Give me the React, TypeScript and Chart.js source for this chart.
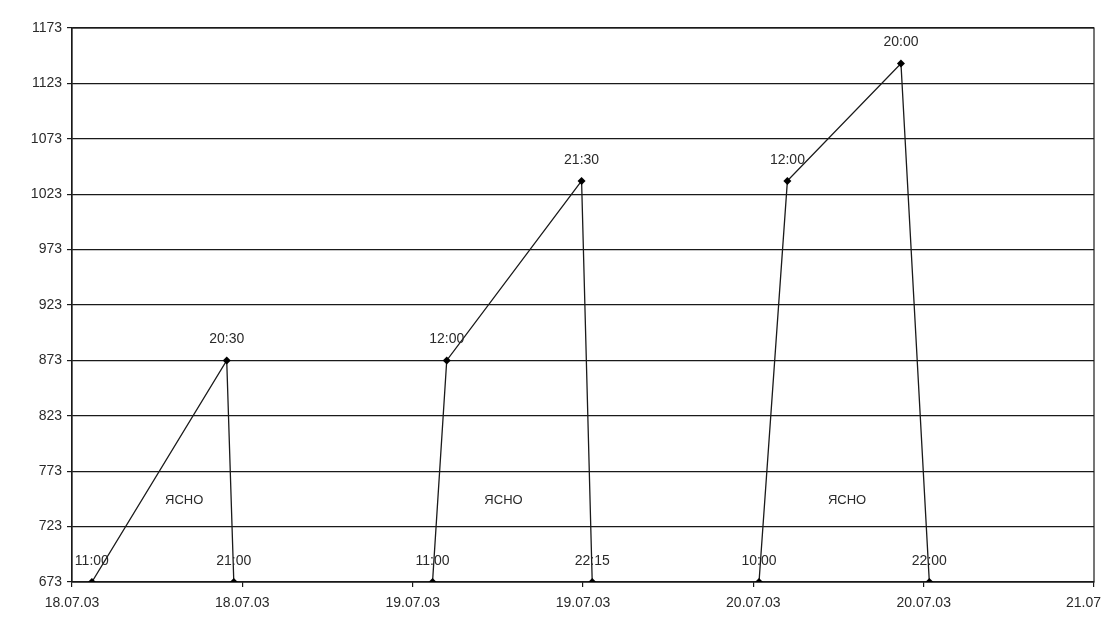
import React, { useEffect, useRef } from 'react'
import { Chart, registerables, Plugin } from 'chart.js'

Chart.register(...registerables)

// hours counted from 18.07.03 00:00
const pointHours = [11, 20.5, 21, 35, 36, 45.5, 46.25, 58, 60, 68, 70]
const pointTimes = ['11:00', '20:30', '21:00', '11:00', '12:00', '21:30', '22:15', '10:00', '12:00', '20:00', '22:00']
const pointLevels = [673, 873, 673, 673, 873, 1035, 673, 673, 1035, 1141, 673]

const yTicks = [673, 723, 773, 823, 873, 923, 973, 1023, 1073, 1123, 1173]
const xTickHours = [9.6, 21.6, 33.6, 45.6, 57.6, 69.6, 81.6]
// last label is cut by the page edge in the original, keep it inside
const xTickLabels = ['18.07.03', '18.07.03', '19.07.03', '19.07.03', '20.07.03', '20.07.03', '21.07\u2003\u2002']

const noteTexts = ['ЯСНО', 'ЯСНО', 'ЯСНО']
const noteHours = [17.5, 40, 64.2]
const noteLevels = [747, 747, 747]

const FONT = "'Liberation Sans', Arial, sans-serif"
const INK = '#1a1a1a'

// time labels over each point + the weather notes
const labelsPlugin: Plugin<'line'> = {
  id: 'pointLabels',
  afterDatasetsDraw(chart) {
    const ctx = chart.ctx
    const meta = chart.getDatasetMeta(0)
    ctx.save()
    ctx.fillStyle = '#2a2a2a'
    ctx.font = `14px ${FONT}`
    ctx.textAlign = 'center'
    ctx.textBaseline = 'middle'
    meta.data.forEach((el, i) => {
      ctx.fillText(pointTimes[i], el.x, el.y - 21)
    })
    const xs = chart.scales.x
    const ys = chart.scales.y
    ctx.font = `13px ${FONT}`
    noteTexts.forEach((t, i) => {
      ctx.fillText(t, xs.getPixelForValue(noteHours[i]), ys.getPixelForValue(noteLevels[i]))
    })
    ctx.restore()
  }
}

// frame round the plot area
const framePlugin: Plugin<'line'> = {
  id: 'plotFrame',
  beforeDatasetsDraw(chart) {
    const { ctx, chartArea } = chart
    ctx.save()
    ctx.strokeStyle = INK
    ctx.lineWidth = 1.2
    ctx.strokeRect(chartArea.left, chartArea.top, chartArea.right - chartArea.left, chartArea.bottom - chartArea.top)
    ctx.restore()
  }
}

const App = () => {
  const chartRef = useRef<HTMLCanvasElement>(null)
  const chartInstance = useRef<Chart<'line'>>()

  useEffect(() => {
    if (!chartRef.current) return
    if (chartInstance.current) chartInstance.current.destroy()

    chartInstance.current = new Chart(chartRef.current, {
      type: 'line',
      data: {
        datasets: [{
          data: pointHours.map((h, i) => ({ x: h, y: pointLevels[i] })),
          borderColor: INK,
          borderWidth: 1.3,
          backgroundColor: '#000',
          pointStyle: 'rectRot',
          pointRadius: 4,
          pointBorderWidth: 0,
          tension: 0,
          fill: false
        }]
      },
      options: {
        animation: false,
        responsive: true,
        maintainAspectRatio: false,
        layout: { padding: { top: 28, right: 14, bottom: 0, left: 0 } },
        plugins: {
          legend: { display: false },
          tooltip: { enabled: false }
        },
        scales: {
          x: {
            type: 'linear',
            min: 9.6,
            max: 81.6,
            afterBuildTicks: (scale) => {
              scale.ticks = xTickHours.map(v => ({ value: v }))
            },
            afterFit: (scale) => {
              scale.height = 56
              scale.paddingLeft = 0
              scale.paddingRight = 0
            },
            grid: {
              drawOnChartArea: false,
              drawTicks: true,
              tickLength: 5,
              color: INK,
              lineWidth: 1.2
            },
            border: { display: true, color: INK, width: 1.2 },
            ticks: {
              padding: 8,
              maxRotation: 0,
              autoSkip: false,
              color: '#2a2a2a',
              font: { family: FONT, size: 14 },
              callback: (_v, index) => xTickLabels[index]
            }
          },
          y: {
            min: 673,
            max: 1173,
            afterBuildTicks: (scale) => {
              scale.ticks = yTicks.map(v => ({ value: v }))
            },
            afterFit: (scale) => {
              scale.width = 72
            },
            grid: {
              color: INK,
              lineWidth: 1.2,
              tickLength: 5
            },
            border: { display: true, color: INK, width: 1.2 },
            ticks: {
              padding: 5,
              autoSkip: false,
              color: '#2a2a2a',
              font: { family: FONT, size: 14 },
              callback: (v) => String(v)
            }
          }
        }
      },
      plugins: [framePlugin, labelsPlugin]
    })

    return () => {
      if (chartInstance.current) {
        chartInstance.current.destroy()
        chartInstance.current = undefined
      }
    }
  }, [])

  return (
    <div style={{ position: 'fixed', left: 0, top: 0, width: 1108, height: 638, background: '#fff' }}>
      <canvas ref={chartRef} />
    </div>
  )
}

export default App
